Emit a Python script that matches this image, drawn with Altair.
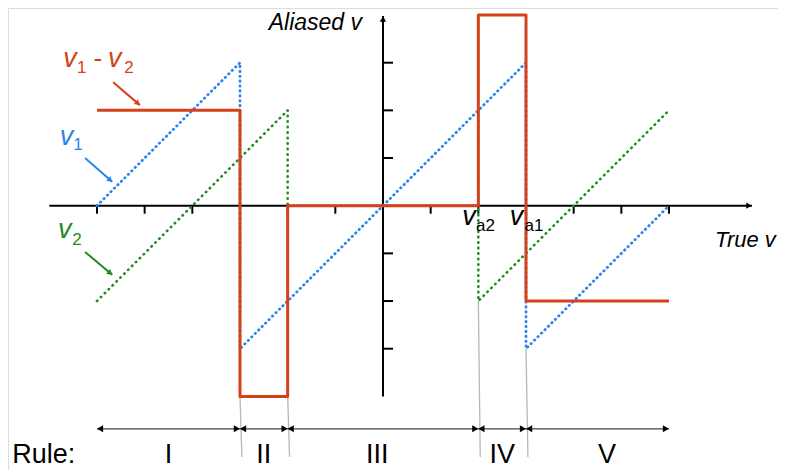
import math
import altair as alt
import pandas as pd

# ---------------- data (true velocity -> aliased velocity, in tick units) -------------
V1_X = [-6, -3, -3, 3, 3, 6]
V1_Y = [0, 3, -3, 3, -3, 0]
V2_X = [-6, -2, -2, 2, 2, 6]
V2_Y = [-2, 2, -2, 2, -2, 2]
V2_PART = [0, 0, 0, 1, 1, 1]   # middle piece (-2..2) lies under v1 and is not shown
DIFF_X = [-6, -3, -3, -2, -2, 2, 2, 3, 3, 6]
DIFF_Y = [2, 2, -4, -4, 0, 0, 4, 4, -2, -2]

X_TICKS = [-6, -5, -4, -3, -2, -1, 1, 2, 3, 4, 5, 6]
Y_TICKS = [-3, -2, -1, 1, 2, 3]

RULE_BOUNDS = [-6, -3, -2, 2, 3, 6]
RULE_LABELS = ["I", "II", "III", "IV", "V"]
RULE_LABEL_X = [-4.5, -2.5, -0.12, 2.5, 4.7]
BOUNDARY_X = [-3, -2, 2, 3]
BOUNDARY_TOP = [-4, -4, -2, -3]

RED = "#D5411B"
BLUE = "#2D84F0"
GREEN = "#1E8C1E"

# ---------------- frame ----------------
PX = 47.67            # pixels per unit
W, H = 770, 462
OX, OY = 375.0, 197.7  # origin inside the view
XD = [-OX / PX, (W - OX) / PX]
YD = [(OY - H) / PX, OY / PX]
xs = alt.Scale(domain=XD, nice=False, zero=False)
ys = alt.Scale(domain=YD, nice=False, zero=False)


def X(f="x"):
    return alt.X(f"{f}:Q", scale=xs, axis=None)


def Y(f="y"):
    return alt.Y(f"{f}:Q", scale=ys, axis=None)


def series(xv, yv, color, dash, width, part=None):
    df = pd.DataFrame({"x": xv, "y": yv, "i": range(len(xv)),
                       "p": part if part is not None else [0] * len(xv)})
    mk = dict(color=color, strokeWidth=width, strokeJoin="round")
    if dash:
        mk.update(strokeDash=dash, strokeCap="round")
    return alt.Chart(df).mark_line(**mk).encode(x=X(), y=Y(), order="i:Q", detail="p:N")


# axes
X_END, Y_END, X_START, Y_START = 7.74, 3.98, -7.0, -4.0
axes_df = pd.DataFrame({"x": [X_START, 0], "x2": [X_END, 0], "y": [0, Y_START], "y2": [0, Y_END]})
axes = alt.Chart(axes_df).mark_rule(color="black", strokeWidth=2).encode(
    x=X(), x2="x2:Q", y=Y(), y2="y2:Q")
TL = 8 / PX
xt = alt.Chart(pd.DataFrame({"x": X_TICKS, "y": 0.0, "y2": -TL})).mark_rule(
    color="black", strokeWidth=2).encode(x=X(), y=Y(), y2="y2:Q")
yt = alt.Chart(pd.DataFrame({"y": Y_TICKS, "x": 0.0, "x2": 10 / PX})).mark_rule(
    color="black", strokeWidth=2).encode(x=X(), x2="x2:Q", y=Y())
ah = 3.0 / PX
axis_heads = alt.Chart(pd.DataFrame({
    "x": [X_END - ah, 0], "y": [0, Y_END - ah], "s": ["triangle-right", "triangle-up"]
})).mark_point(filled=True, color="black", opacity=1, size=40).encode(
    x=X(), y=Y(), shape=alt.Shape("s:N", scale=None))

# grey boundary lines
bnd = alt.Chart(pd.DataFrame({
    "x": BOUNDARY_X, "x2": [b + 0.04 for b in BOUNDARY_X],
    "y": BOUNDARY_TOP, "y2": [-5.27] * 4
})).mark_rule(color="#b8b8b8", strokeWidth=1.3).encode(x=X(), x2="x2:Q", y=Y(), y2="y2:Q")

# rule arrows
RY = -4.68
seg = pd.DataFrame({"x": RULE_BOUNDS[:-1], "x2": RULE_BOUNDS[1:], "y": RY})
rule_lines = alt.Chart(seg).mark_rule(color="#444444", strokeWidth=1.2).encode(
    x=X(), x2="x2:Q", y=Y())
hh = 3.1 / PX
heads = []
for a, b in zip(RULE_BOUNDS[:-1], RULE_BOUNDS[1:]):
    heads.append({"x": a + hh, "y": RY, "s": "triangle-left"})
    heads.append({"x": b - hh, "y": RY, "s": "triangle-right"})
rule_heads = alt.Chart(pd.DataFrame(heads)).mark_point(
    filled=True, color="black", opacity=1, size=50).encode(
    x=X(), y=Y(), shape=alt.Shape("s:N", scale=None))

# legend pointer arrows
ARROWS = [(-5.66, 2.59, -5.10, 2.11, RED), (-6.25, 1.00, -5.68, 0.50, BLUE),
          (-6.25, -0.97, -5.68, -1.45, GREEN)]
arr_df = pd.DataFrame([{"x": a, "y": b, "x2": c, "y2": d, "c": col} for a, b, c, d, col in ARROWS])
arr_lines = alt.Chart(arr_df).mark_rule(strokeWidth=2).encode(
    x=X(), x2="x2:Q", y=Y(), y2="y2:Q", color=alt.Color("c:N", scale=None))
ph = []
for a, b, c, d, col in ARROWS:
    dx, dy = c - a, d - b
    L = math.hypot(dx, dy)
    off = 2.6 / PX
    ph.append({"x": c - dx / L * off, "y": d - dy / L * off, "c": col,
               "ang": math.degrees(math.atan2(dx, dy)) % 360})
arr_heads = alt.Chart(pd.DataFrame(ph)).mark_point(
    filled=True, opacity=1, size=40, shape="triangle-up").encode(
    x=X(), y=Y(), color=alt.Color("c:N", scale=None), angle=alt.Angle("ang:Q", scale=None))

FONT = "Liberation Sans"


def texts(rows, size, style="normal", align="left"):
    df = pd.DataFrame(rows, columns=["x", "y", "t", "c"])
    return alt.Chart(df).mark_text(font=FONT, fontSize=size, fontStyle=style, align=align,
                                   baseline="alphabetic").encode(
        x=X(), y=Y(), text="t:N", color=alt.Color("c:N", scale=None))


big_v = texts([(-6.71, 2.91, "v", RED), (-5.77, 2.91, "v", RED), (-6.78, 1.27, "v", BLUE),
               (-6.82, -0.68, "v", GREEN), (1.66, -0.40, "v", "black"),
               (2.66, -0.40, "v", "black")], 27, "italic")
subs = texts([(-6.42, 2.78, "1", RED), (-5.43, 2.78, "2", RED), (-6.50, 1.17, "1", BLUE),
              (-6.52, -0.83, "2", GREEN), (1.95, -0.53, "a2", "black"),
              (2.97, -0.53, "a1", "black")], 17)
minus = texts([(-5.98, 2.91, "-", RED)], 26, align="center")
t_alias = texts([(-0.44, 3.69, "Aliased v", "black")], 23, "italic", align="right")
t_true = texts([(8.24, -0.87, "True v", "black")], 22, "italic", align="right")
RB = -5.40
t_rule = texts([(-7.78, RB, "Rule:", "black")], 27)
t_roman = texts([(x, RB, t, "black") for x, t in zip(RULE_LABEL_X, RULE_LABELS)], 27,
                align="center")

chart = alt.layer(
    axes, xt, yt, axis_heads, bnd, rule_lines, rule_heads,
    series(V2_X, V2_Y, GREEN, [0.5, 5.0], 2.6, V2_PART),
    series(V1_X, V1_Y, BLUE, [0.5, 4.4], 2.8),
    series(DIFF_X, DIFF_Y, RED, None, 3),
    arr_lines, arr_heads, big_v, subs, minus, t_alias, t_true, t_rule, t_roman,
).properties(
    width=W, height=H, autosize=alt.AutoSizeParams(type="none"), padding=0
).configure_view(stroke=None).configure(background="white")

chart.save("out.html", embed_options={"renderer": "svg", "actions": False})
